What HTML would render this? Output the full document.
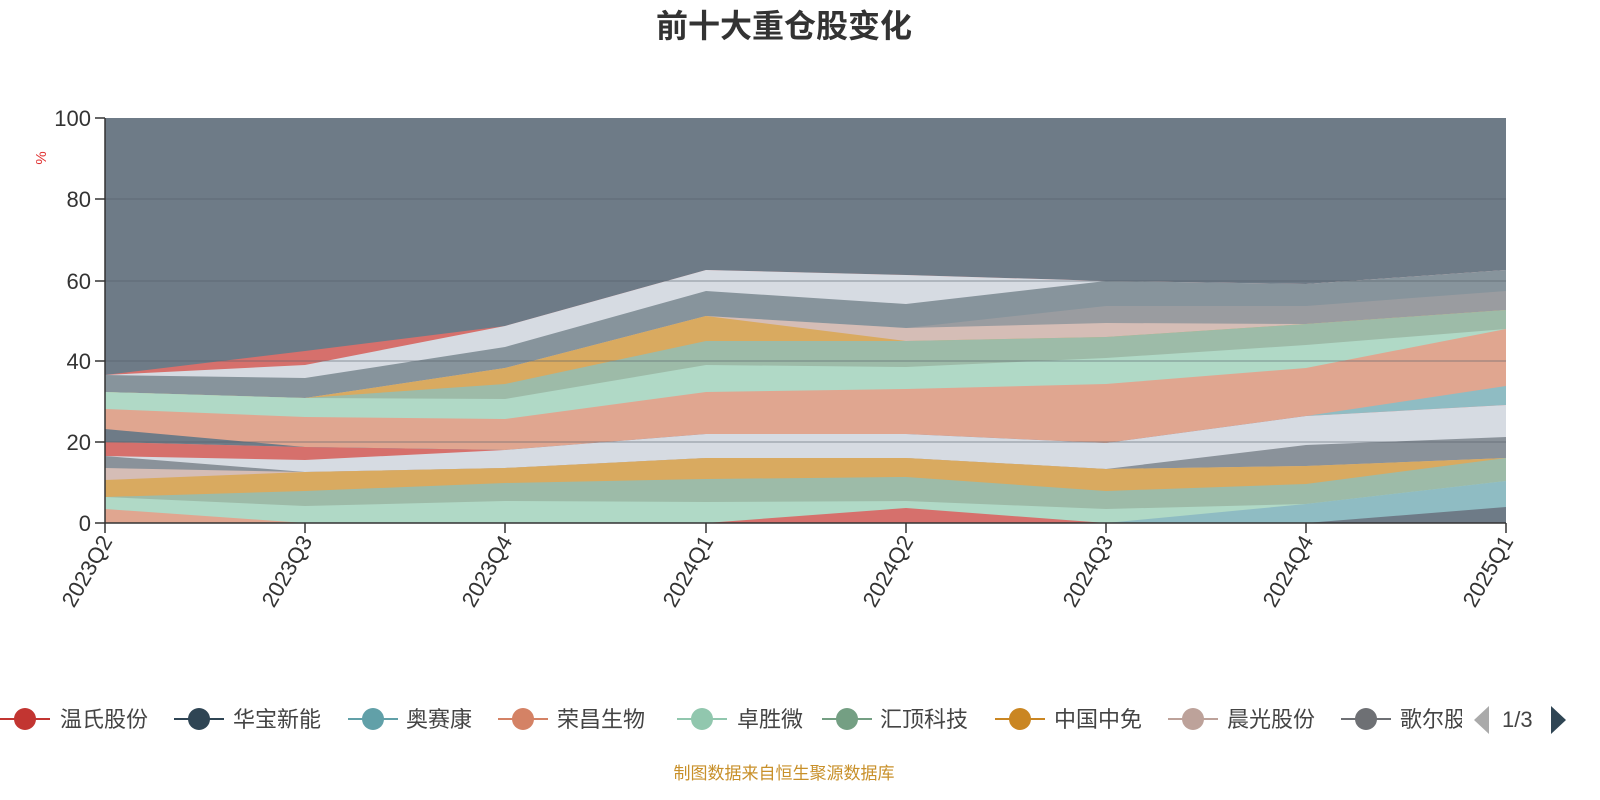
<!DOCTYPE html>
<html><head><meta charset="utf-8"><style>
html,body{margin:0;padding:0;background:#fff;overflow:hidden;width:1600px;height:800px}
svg{display:block}
svg text{font-family:"Liberation Sans","Noto Sans CJK SC",sans-serif}
</style></head><body>
<svg width="1600" height="800" xmlns="http://www.w3.org/2000/svg">
<text x="784" y="37" font-size="32" font-weight="bold" fill="#333" text-anchor="middle">前十大重仓股变化</text>
<rect x="105" y="118" width="1401" height="405" fill="#6e7b87"/>
<g>
<polygon fill="#d6706c" points="105,375 305,351 505,326 706,270 906,275 1106,281 1306,284 1506,270 1506,523 105,523"/>
<polygon fill="#d6dbe2" points="105,375 305,365 505,326 706,270 906,275 1106,281 1306,284 1506,270 1506,523 105,523"/>
<polygon fill="#87949c" points="105,375 305,378 505,347 706,291 906,304 1106,281 1306,284 1506,270 1506,523 105,523"/>
<polygon fill="#9a9ca0" points="105,392 305,398 505,368 706,316 906,328 1106,306 1306,306 1506,291 1506,523 105,523"/>
<polygon fill="#d5bdb6" points="105,392 305,398 505,368 706,316 906,328 1106,323 1306,324 1506,310 1506,523 105,523"/>
<polygon fill="#d9aa60" points="105,392 305,398 505,368 706,316 906,341 1106,337 1306,324 1506,310 1506,523 105,523"/>
<polygon fill="#9dbba8" points="105,392 305,398 505,384 706,341 906,341 1106,337 1306,324 1506,310 1506,523 105,523"/>
<polygon fill="#b0d9c6" points="105,392 305,398 505,399 706,365 906,367 1106,358 1306,345 1506,329 1506,523 105,523"/>
<polygon fill="#e0a690" points="105,409 305,417 505,419 706,392 906,389 1106,384 1306,368 1506,329 1506,523 105,523"/>
<polygon fill="#6e7b87" points="105,429 305,447 505,450 706,434 906,434 1106,443 1306,416 1506,405 1506,523 105,523"/>
<polygon fill="#8fbcc3" points="105,442 305,447 505,450 706,434 906,434 1106,443 1306,416 1506,386 1506,523 105,523"/>
<polygon fill="#d6706c" points="105,442 305,447 505,450 706,434 906,434 1106,443 1306,416 1506,405 1506,523 105,523"/>
<polygon fill="#d6dbe2" points="105,456 305,460 505,450 706,434 906,434 1106,443 1306,416 1506,405 1506,523 105,523"/>
<polygon fill="#8a929a" points="105,456 305,472 505,468 706,458 906,458 1106,469 1306,445 1506,437 1506,523 105,523"/>
<polygon fill="#d5bdb6" points="105,468 305,472 505,468 706,458 906,458 1106,469 1306,466 1506,458 1506,523 105,523"/>
<polygon fill="#d9aa60" points="105,480 305,472 505,468 706,458 906,458 1106,469 1306,466 1506,458 1506,523 105,523"/>
<polygon fill="#9dbba8" points="105,497 305,491 505,483 706,479 906,477 1106,491 1306,484 1506,458 1506,523 105,523"/>
<polygon fill="#b0d9c6" points="105,497 305,506 505,501 706,502 906,501 1106,509 1306,504 1506,481 1506,523 105,523"/>
<polygon fill="#e0a690" points="105,509 305,523 505,523 706,523 906,523 1106,523 1306,523 1506,523 1506,523 105,523"/>
<polygon fill="#d6706c" points="105,523 305,523 505,523 706,523 906,508 1106,523 1306,523 1506,523 1506,523 105,523"/>
<polygon fill="#8fbcc3" points="105,523 305,523 505,523 706,523 906,523 1106,523 1306,504 1506,481 1506,523 105,523"/>
<polygon fill="#6e7b87" points="105,523 305,523 505,523 706,523 906,523 1106,523 1306,523 1506,507 1506,523 105,523"/>
</g>
<g stroke="#555f69" stroke-width="1" opacity="0.6">
<line x1="105" y1="199" x2="1506" y2="199"/><line x1="105" y1="281" x2="1506" y2="281"/><line x1="105" y1="361" x2="1506" y2="361"/><line x1="105" y1="442" x2="1506" y2="442"/>
</g>
<g stroke="#333" stroke-width="1.5">
<line x1="105" y1="118" x2="105" y2="523"/><line x1="105" y1="523" x2="1506" y2="523"/>
<line x1="95" y1="118" x2="105" y2="118"/><line x1="95" y1="199" x2="105" y2="199"/><line x1="95" y1="281" x2="105" y2="281"/><line x1="95" y1="361" x2="105" y2="361"/><line x1="95" y1="442" x2="105" y2="442"/><line x1="95" y1="523" x2="105" y2="523"/>
<line x1="105" y1="523" x2="105" y2="533"/><line x1="305" y1="523" x2="305" y2="533"/><line x1="505" y1="523" x2="505" y2="533"/><line x1="706" y1="523" x2="706" y2="533"/><line x1="906" y1="523" x2="906" y2="533"/><line x1="1106" y1="523" x2="1106" y2="533"/><line x1="1306" y1="523" x2="1306" y2="533"/><line x1="1506" y1="523" x2="1506" y2="533"/>
</g>
<g font-size="22" fill="#333" text-anchor="end">
<text x="91" y="126">100</text><text x="91" y="207">80</text><text x="91" y="289">60</text><text x="91" y="369">40</text><text x="91" y="450">20</text><text x="91" y="531">0</text>
</g>
<text x="46" y="158" font-size="15" fill="#e03030" transform="rotate(-90 46 158)" text-anchor="middle">%</text>
<g font-size="22" fill="#333" text-anchor="end">
<text transform="translate(113,541) rotate(-60)">2023Q2</text>
<text transform="translate(313,541) rotate(-60)">2023Q3</text>
<text transform="translate(513,541) rotate(-60)">2023Q4</text>
<text transform="translate(714,541) rotate(-60)">2024Q1</text>
<text transform="translate(914,541) rotate(-60)">2024Q2</text>
<text transform="translate(1114,541) rotate(-60)">2024Q3</text>
<text transform="translate(1314,541) rotate(-60)">2024Q4</text>
<text transform="translate(1514,541) rotate(-60)">2025Q1</text>
</g>
<g font-size="22" fill="#444">
<line x1="0" y1="719" x2="50" y2="719" stroke="#c23531" stroke-width="2"/><circle cx="25" cy="719" r="11" fill="#c23531"/><text x="60" y="727">温氏股份</text>
<line x1="174" y1="719" x2="224" y2="719" stroke="#2f4554" stroke-width="2"/><circle cx="199" cy="719" r="11" fill="#2f4554"/><text x="233" y="727">华宝新能</text>
<line x1="348" y1="719" x2="398" y2="719" stroke="#61a0a8" stroke-width="2"/><circle cx="373" cy="719" r="11" fill="#61a0a8"/><text x="406" y="727">奥赛康</text>
<line x1="498" y1="719" x2="548" y2="719" stroke="#d48265" stroke-width="2"/><circle cx="523" cy="719" r="11" fill="#d48265"/><text x="557" y="727">荣昌生物</text>
<line x1="677" y1="719" x2="727" y2="719" stroke="#91c7ae" stroke-width="2"/><circle cx="702" cy="719" r="11" fill="#91c7ae"/><text x="737" y="727">卓胜微</text>
<line x1="822" y1="719" x2="872" y2="719" stroke="#749f83" stroke-width="2"/><circle cx="847" cy="719" r="11" fill="#749f83"/><text x="880" y="727">汇顶科技</text>
<line x1="995" y1="719" x2="1045" y2="719" stroke="#ca8622" stroke-width="2"/><circle cx="1020" cy="719" r="11" fill="#ca8622"/><text x="1054" y="727">中国中免</text>
<line x1="1168" y1="719" x2="1218" y2="719" stroke="#bda29a" stroke-width="2"/><circle cx="1193" cy="719" r="11" fill="#bda29a"/><text x="1227" y="727">晨光股份</text>
<line x1="1341" y1="719" x2="1391" y2="719" stroke="#6e7074" stroke-width="2"/><circle cx="1366" cy="719" r="11" fill="#6e7074"/>
<svg x="1400" y="700" width="62" height="40"><text x="0" y="27">歌尔股份</text></svg>
<polygon points="1489,706 1489,734 1474,720" fill="#aaa"/>
<text x="1502" y="727">1/3</text>
<polygon points="1551,706 1551,734 1566,720" fill="#2f4554"/>
</g>
<text x="784" y="779" font-size="17" fill="#c8902a" text-anchor="middle">制图数据来自恒生聚源数据库</text>
</svg>
</body></html>
